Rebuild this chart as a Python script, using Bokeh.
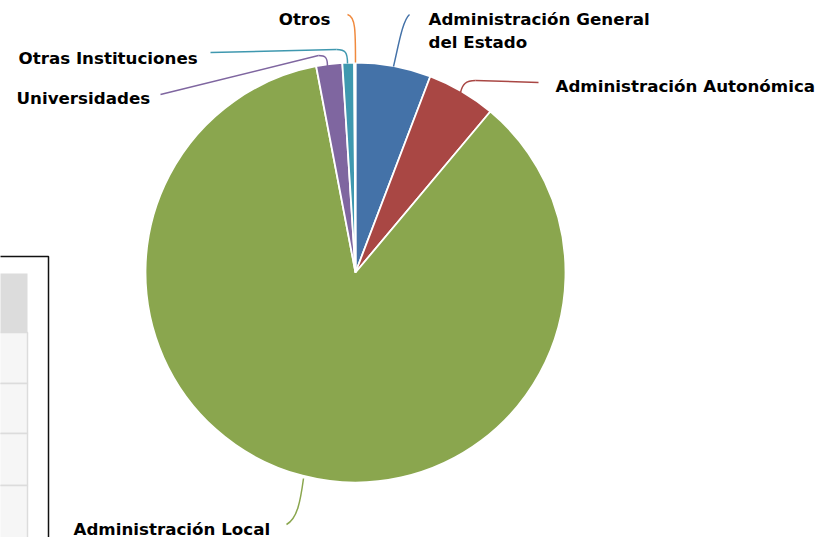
import numpy as np
from bokeh.plotting import figure
from bokeh.models import Range1d, ColumnDataSource
from bokeh.core.properties import value
from bokeh.embed import file_html
from bokeh.resources import INLINE

# ---- data ----
categories = ["Administración General del Estado", "Administración Autonómica",
              "Administración Local", "Universidades", "Otras Instituciones", "Otros"]
shares = [5.8, 5.3, 85.9, 2.0, 0.9, 0.1]
colors = ["#4472A8", "#A94744", "#8AA64E", "#7F66A0", "#3F98AF", "#F08A3E"]

# ---- layout (picture pixel coords, y down) ----
W, H = 817, 537
def Y(py):
    return H - py

cx, cy, R = 355, 272, 210

p = figure(width=W, height=H, x_range=Range1d(0, W), y_range=Range1d(0, H),
           output_backend="svg", toolbar_location=None, min_border=0)
p.axis.visible = False
p.grid.visible = False
p.outline_line_color = None
p.background_fill_color = "white"

# partial table box on left
p.quad(left=[-5], right=[48], bottom=[Y(545)], top=[Y(256)], fill_color="white",
       line_color="#111111", line_width=1.5)
p.quad(left=[-5], right=[27], bottom=[Y(332)], top=[Y(273)], fill_color="#DCDCDC", line_color=None)
row_tops = [332, 383, 433, 485]
row_bots = [383, 433, 485, 545]
p.quad(left=[-5]*4, right=[27]*4, bottom=[Y(b) for b in row_bots], top=[Y(t) for t in row_tops],
       fill_color="#F6F6F6", line_color="#DCDCDC", line_width=1.5)

# pie
frac = np.array(shares) / sum(shares)
cum = np.concatenate([[0], np.cumsum(frac)])
start = np.pi / 2 - cum[:-1] * 2 * np.pi
end = np.pi / 2 - cum[1:] * 2 * np.pi
src = ColumnDataSource(dict(start=start, end=end, color=colors))
p.wedge(x=cx, y=Y(cy), radius=R, start_angle="start", end_angle="end", direction="clock",
        fill_color="color", line_color="white", line_width=1.8, source=src)

# leader lines: (x0,y0,cx0,cy0,cx1,cy1,x1,y1) in picture px
curves = [
    (393, 66, 398, 45, 402, 20, 409, 14, 0),
    (460, 92, 462, 84, 465, 80, 475, 80, 1),
    (303, 478, 300, 500, 297, 518, 286, 524, 2),
    (327, 66, 327, 57, 325, 55, 318, 55, 3),
    (347, 63, 347, 52, 345, 49, 336, 49, 4),
    (355, 62, 355, 30, 355, 16, 347, 14, 5),
]
for x0, y0, c0x, c0y, c1x, c1y, x1, y1, i in curves:
    p.bezier(x0=[x0], y0=[Y(y0)], x1=[x1], y1=[Y(y1)], cx0=[c0x], cy0=[Y(c0y)],
             cx1=[c1x], cy1=[Y(c1y)], line_color=colors[i], line_width=1.5)
segs = [
    (475, 80, 538, 82, 1),
    (318, 55, 160, 94, 3),
    (336, 49, 210, 52, 4),
]
for x0, y0, x1, y1, i in segs:
    p.line([x0, x1], [Y(y0), Y(y1)], line_color=colors[i], line_width=1.5)

# labels
labels = [
    ("Administración General", 428, 18, "left"),
    ("del Estado", 428, 41, "left"),
    ("Administración Autonómica", 555, 85, "left"),
    ("Administración Local", 73, 528, "left"),
    ("Universidades", 16, 97, "left"),
    ("Otras Instituciones", 18, 57, "left"),
    ("Otros", 330, 18, "right"),
]
for t, x, y, al in labels:
    p.text(x=[x], y=[Y(y)], text=[t], text_font=value("DejaVu Sans"), text_font_style="bold",
           text_font_size="16.7px", text_align=al, text_baseline="middle", text_color="#000000")

open("out.html", "w").write(file_html(p, INLINE))
